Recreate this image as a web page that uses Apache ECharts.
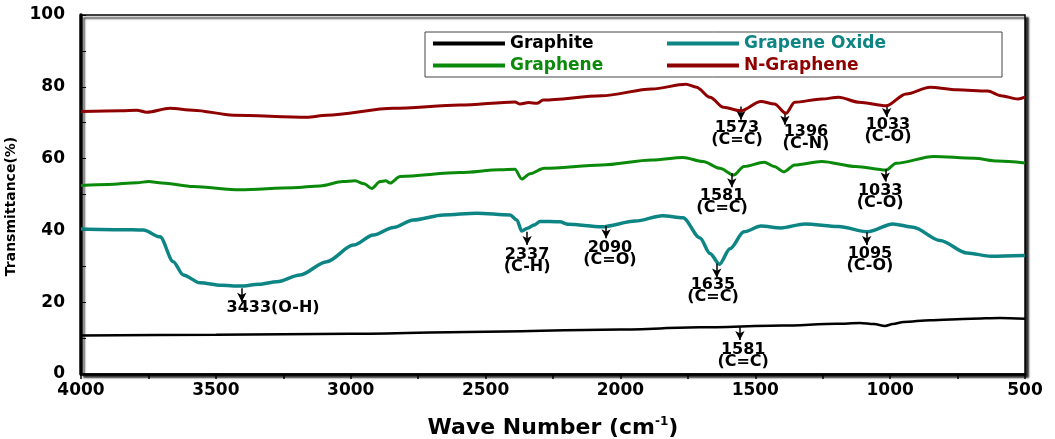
<!DOCTYPE html>
<html>
<head>
<meta charset="utf-8">
<script src="https://cdn.jsdelivr.net/npm/echarts@6/dist/echarts.min.js"></script>
<style>
html,body{margin:0;padding:0;background:#fff;}
#chart{width:1055px;height:439px;}
</style>
</head>
<body>
<div id="chart"></div>
<script>
// ---- Data (wavenumber cm^-1, transmittance %) ----
const seriesNames = ['Graphite', 'Grapene Oxide', 'Graphene', 'N-Graphene'];

const graphite = [[4000,10.7],[3500,10.9],[3000,11.2],[2500,11.8],[2000,12.4],[1705,13.0],[1400,13.5],[1200,14.0],[1112,14.2],[1060,13.9],[1019,13.4],[990,13.9],[950,14.5],[852,15.0],[700,15.4],[593,15.6],[500,15.4]];

const grapheneOxide = [[4000,40.4],[3850,40.2],[3769,40.1],[3707,38.2],[3658,31.3],[3621,27.6],[3559,25.4],[3480,24.7],[3410,24.5],[3340,25.0],[3274,25.7],[3188,27.6],[3089,31.3],[2990,35.9],[2916,38.7],[2842,40.8],[2768,42.9],[2657,44.3],[2533,44.8],[2409,44.3],[2384,42.9],[2366,39.8],[2345,40.6],[2320,41.5],[2298,42.5],[2224,42.4],[2194,41.7],[2070,41.0],[1944,42.6],[1844,44.1],[1768,43.5],[1705,37.9],[1668,33.6],[1633,30.6],[1594,34.9],[1542,39.6],[1479,41.2],[1405,40.7],[1316,41.8],[1191,41.1],[1084,39.6],[990,41.8],[915,40.9],[815,37.2],[715,33.7],[626,32.8],[500,33.0]];

const graphene = [[4000,52.5],[3900,52.8],[3793,53.3],[3750,53.6],[3700,53.2],[3584,52.2],[3410,51.3],[3214,51.9],[3114,52.4],[3029,53.6],[2984,53.8],[2950,53.0],[2922,51.7],[2891,53.6],[2870,53.8],[2854,53.2],[2817,55.0],[2595,56.1],[2446,56.9],[2391,57.0],[2366,54.3],[2335,55.8],[2283,57.3],[2070,58.2],[1883,59.6],[1768,60.3],[1694,59.2],[1631,57.3],[1580,55.4],[1542,57.8],[1467,59.0],[1430,57.8],[1394,56.3],[1354,58.2],[1254,59.2],[1128,57.8],[1015,56.8],[978,58.7],[839,60.6],[689,60.1],[600,59.3],[500,58.8]];

const nGraphene = [[4000,73.1],[3850,73.3],[3793,73.5],[3756,72.9],[3670,74.0],[3584,73.5],[3435,72.1],[3163,71.5],[3089,72.1],[2842,74.0],[2595,74.9],[2391,75.8],[2372,75.2],[2340,75.6],[2310,75.4],[2286,76.3],[2070,77.5],[1883,79.4],[1757,80.7],[1718,79.9],[1668,77.1],[1618,74.3],[1555,73.3],[1479,75.9],[1429,75.2],[1386,72.6],[1354,75.7],[1254,76.6],[1191,77.1],[1115,75.7],[1015,74.7],[941,78.0],[852,79.9],[752,79.2],[638,78.8],[589,77.5],[526,76.6],[500,77.1]];

// Peak annotations: [arrowX, arrowFrom, arrowTo, labelX, labelY, text]
const annGraphite = [[1557,13.1,9.5,1545,5.0,'1581\n(C=C)']];
const annOxide = [[3404,23.9,20.1,3288,18.3,'3433(O-H)'],[2346,39.6,35.9,2346,31.5,'2337\n(C-H)'],[2053,41.2,37.8,2039,33.4,'2090\n(C=O)'],[1643,30.8,26.9,1657,23.1,'1635\n(C=C)'],[1087,39.5,35.9,1075,31.8,'1095\n(C-O)']];
const annGraphene = [[1587,56.0,52.0,1623,47.9,'1581\n(C=C)'],[1018,57.1,53.6,1037,49.3,'1033\n(C-O)']];
const annN = [[1553,74.5,70.8,1568,66.9,'1573\n(C=C)'],[1390,73.1,69.4,1312,65.7,'1396\n(C-N)'],[1013,74.9,71.6,1008,67.7,'1033\n(C-O)']];

const colors = ['#000000', '#0e8585', '#0b890b', '#8f0000'];
const FONT = 'DejaVu Sans';

function marks(ann) {
  return {
    markLine: {
      silent: true, animation: false,
      symbol: ['none', 'arrow'], symbolSize: [7, 9],
      label: {show: false},
      lineStyle: {color: '#000', width: 1.5, type: 'solid'},
      data: ann.map(a => [{coord: [a[0], a[1]]}, {coord: [a[0], a[2]]}])
    },
    markPoint: {
      silent: true, animation: false,
      symbol: 'circle', symbolSize: 0,
      label: {show: true, position: 'inside', color: '#000', fontFamily: FONT, fontWeight: 'bold', fontSize: 16, lineHeight: 12},
      data: ann.map(a => ({coord: [a[3], a[4]], label: {formatter: a[5]}}))
    }
  };
}

const datasets = [graphite, grapheneOxide, graphene, nGraphene];
const anns = [annGraphite, annOxide, annGraphene, annN];
const widths = [2.5, 3.5, 3, 3];

const chart = echarts.init(document.getElementById('chart'), null, {renderer: 'canvas'});
chart.setOption({
  animation: false,
  backgroundColor: '#fff',
  grid: {left: 81, right: 30, top: 15, bottom: 65, outerBoundsMode: 'none', containLabel: false,
         show: true, borderColor: '#000', borderWidth: 1.5,
         backgroundColor: '#fff', shadowColor: 'rgba(0,0,0,0.85)', shadowOffsetX: 3, shadowOffsetY: 3, shadowBlur: 2},
  legend: {
    left: 425, top: 32, width: 565,
    padding: [3, 8], itemGap: 5,
    borderColor: '#444', borderWidth: 1, backgroundColor: '#fff',
    itemWidth: 72, itemHeight: 4, icon: 'rect',
    textStyle: {fontFamily: FONT, fontWeight: 'bold', fontSize: 17, lineHeight: 14},
    data: [
      {name: 'Graphite', textStyle: {color: colors[0], width: 152}},
      {name: 'Grapene Oxide', textStyle: {color: colors[1], width: 250}},
      {name: 'Graphene', textStyle: {color: colors[2], width: 152}},
      {name: 'N-Graphene', textStyle: {color: colors[3], width: 250}}
    ]
  },
  xAxis: {
    type: 'value', min: 500, max: 4000, interval: 500, inverse: true,
    name: 'Wave Number (cm{sup|-1})', nameLocation: 'middle', nameGap: 42,
    nameTextStyle: {fontFamily: FONT, fontWeight: 'bold', fontSize: 22, color: '#000',
      rich: {sup: {fontSize: 12, fontWeight: 'bold', fontFamily: FONT, verticalAlign: 'top', padding: [0, 0, 12, 0], color: '#000'}}},
    axisLine: {onZero: false, lineStyle: {color: '#000', width: 2.5}},
    axisTick: {show: true, inside: false, length: 5, lineStyle: {color: '#000', width: 1.5}},
    minorTick: {show: true, splitNumber: 2, length: 5, lineStyle: {color: '#000', width: 1.5}},
    axisLabel: {fontFamily: FONT, fontWeight: 'bold', fontSize: 17, color: '#000', margin: 8,
      formatter: v => String(v)},
    splitLine: {show: false}
  },
  yAxis: {
    type: 'value', min: 0, max: 100, interval: 20,
    name: 'Transmittance(%)', nameLocation: 'middle', nameGap: 60,
    nameTextStyle: {fontFamily: FONT, fontWeight: 'bold', fontSize: 14, color: '#000', padding: [0, 24, 0, 0]},
    axisLine: {onZero: false, lineStyle: {color: '#000', width: 3.5}},
    axisTick: {show: true, inside: true, length: 5, lineStyle: {color: '#000', width: 1}},
    minorTick: {show: true, splitNumber: 2, length: 5, lineStyle: {color: '#000', width: 1}},
    axisLabel: {fontFamily: FONT, fontWeight: 'bold', fontSize: 17, color: '#000', margin: 16,
      formatter: v => String(v)},
    splitLine: {show: false}
  },
  series: datasets.map((d, i) => Object.assign({
    name: seriesNames[i], type: 'line', data: d,
    showSymbol: false, smooth: 0.3, smoothMonotone: 'x',
    lineStyle: {color: colors[i], width: widths[i]},
    itemStyle: {color: colors[i]},
    z: 2 + i
  }, marks(anns[i])))
});
</script>
</body>
</html>
